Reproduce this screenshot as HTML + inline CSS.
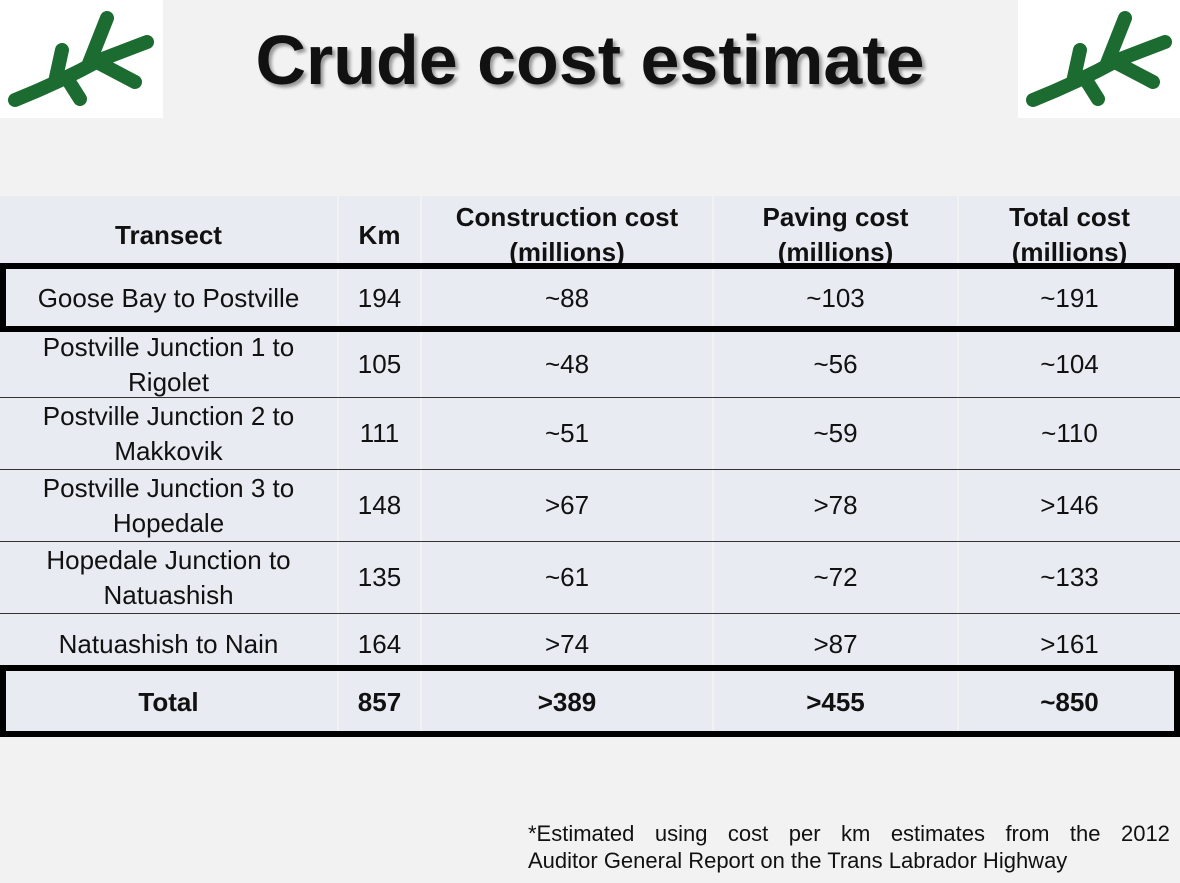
<!DOCTYPE html>
<html><head><meta charset="utf-8"><style>
body{margin:0;width:1180px;height:883px;background:#f2f2f2;position:relative;overflow:hidden;font-family:"Liberation Sans",Arial,sans-serif;color:#111}
.a{position:absolute}
.logo{position:absolute;top:0;width:163px;height:118px;background:#fff}
.title{position:absolute;left:0;width:1180px;top:20px;text-align:center;font-weight:bold;font-size:70px;text-shadow:3px 3px 3px #999}
.cell{position:absolute;background:#e9ebf3;display:flex;align-items:center;justify-content:center;text-align:center;font-size:26px;line-height:35px}
.hl{position:absolute;left:0;width:1180px;height:1px;background:#333}
.b{font-weight:bold}
.box{position:absolute;left:0;width:1180px;border:6px solid #000;box-sizing:border-box}
</style></head><body>
<div class="logo" style="left:0"><svg width="163" height="118" viewBox="0 0 163 118"><g stroke="#1c6b30" stroke-width="14" stroke-linecap="round" fill="none"><path d="M15 100 Q60 82 100 60 L147 42"/><path d="M55 82 L62 50"/><path d="M88 66 L107 18"/><path d="M97 62 L135 82"/><path d="M68 80 L80 99"/></g></svg></div>
<div class="logo" style="left:1018px"><svg width="163" height="118" viewBox="0 0 163 118"><g stroke="#1c6b30" stroke-width="14" stroke-linecap="round" fill="none"><path d="M15 100 Q60 82 100 60 L147 42"/><path d="M55 82 L62 50"/><path d="M88 66 L107 18"/><path d="M97 62 L135 82"/><path d="M68 80 L80 99"/></g></svg></div>
<div class="title">Crude cost estimate</div>

<div class="cell b" style="left:0;width:337px;top:196px;height:68px;padding-top:10px;box-sizing:border-box">Transect</div>
<div class="cell b" style="left:339px;width:81px;top:196px;height:68px;padding-top:10px;box-sizing:border-box">Km</div>
<div class="cell b" style="left:422px;width:290px;top:196px;height:68px;align-items:flex-start;overflow:hidden"><div style="margin-top:4px">Construction cost<br>(millions)</div></div>
<div class="cell b" style="left:714px;width:243px;top:196px;height:68px;align-items:flex-start;overflow:hidden"><div style="margin-top:4px">Paving cost<br>(millions)</div></div>
<div class="cell b" style="left:959px;width:221px;top:196px;height:68px;align-items:flex-start;overflow:hidden"><div style="margin-top:4px">Total cost<br>(millions)</div></div>

<div class="cell" style="left:0;width:337px;top:264px;height:68px">Goose Bay to Postville</div>
<div class="cell" style="left:339px;width:81px;top:264px;height:68px">194</div>
<div class="cell" style="left:422px;width:290px;top:264px;height:68px">~88</div>
<div class="cell" style="left:714px;width:243px;top:264px;height:68px">~103</div>
<div class="cell" style="left:959px;width:221px;top:264px;height:68px">~191</div>

<div class="cell" style="left:0;width:337px;top:332px;height:65px">Postville Junction 1 to<br>Rigolet</div>
<div class="cell" style="left:339px;width:81px;top:332px;height:65px">105</div>
<div class="cell" style="left:422px;width:290px;top:332px;height:65px">~48</div>
<div class="cell" style="left:714px;width:243px;top:332px;height:65px">~56</div>
<div class="cell" style="left:959px;width:221px;top:332px;height:65px">~104</div>

<div class="cell" style="left:0;width:337px;top:398px;height:71px">Postville Junction 2 to<br>Makkovik</div>
<div class="cell" style="left:339px;width:81px;top:398px;height:71px">111</div>
<div class="cell" style="left:422px;width:290px;top:398px;height:71px">~51</div>
<div class="cell" style="left:714px;width:243px;top:398px;height:71px">~59</div>
<div class="cell" style="left:959px;width:221px;top:398px;height:71px">~110</div>

<div class="cell" style="left:0;width:337px;top:470px;height:71px">Postville Junction 3 to<br>Hopedale</div>
<div class="cell" style="left:339px;width:81px;top:470px;height:71px">148</div>
<div class="cell" style="left:422px;width:290px;top:470px;height:71px">&gt;67</div>
<div class="cell" style="left:714px;width:243px;top:470px;height:71px">&gt;78</div>
<div class="cell" style="left:959px;width:221px;top:470px;height:71px">&gt;146</div>

<div class="cell" style="left:0;width:337px;top:542px;height:71px">Hopedale Junction to<br>Natuashish</div>
<div class="cell" style="left:339px;width:81px;top:542px;height:71px">135</div>
<div class="cell" style="left:422px;width:290px;top:542px;height:71px">~61</div>
<div class="cell" style="left:714px;width:243px;top:542px;height:71px">~72</div>
<div class="cell" style="left:959px;width:221px;top:542px;height:71px">~133</div>

<div class="cell" style="left:0;width:337px;top:614px;height:60px">Natuashish to Nain</div>
<div class="cell" style="left:339px;width:81px;top:614px;height:60px">164</div>
<div class="cell" style="left:422px;width:290px;top:614px;height:60px">&gt;74</div>
<div class="cell" style="left:714px;width:243px;top:614px;height:60px">&gt;87</div>
<div class="cell" style="left:959px;width:221px;top:614px;height:60px">&gt;161</div>

<div class="cell b" style="left:0;width:337px;top:670px;height:64px">Total</div>
<div class="cell b" style="left:339px;width:81px;top:670px;height:64px">857</div>
<div class="cell b" style="left:422px;width:290px;top:670px;height:64px">&gt;389</div>
<div class="cell b" style="left:714px;width:243px;top:670px;height:64px">&gt;455</div>
<div class="cell b" style="left:959px;width:221px;top:670px;height:64px">~850</div>

<div class="hl" style="top:397px"></div>
<div class="hl" style="top:469px"></div>
<div class="hl" style="top:541px"></div>
<div class="hl" style="top:613px"></div>

<div class="box" style="top:263px;height:69px"></div>
<div class="box" style="top:665px;height:72px"></div>

<div class="a" style="left:528px;top:820px;width:642px;font-size:22px;line-height:27px;color:#111"><div style="white-space:nowrap;display:flex;justify-content:space-between"><span>*Estimated</span><span>using</span><span>cost</span><span>per</span><span>km</span><span>estimates</span><span>from</span><span>the</span><span>2012</span></div><div>Auditor General Report on the Trans Labrador Highway</div></div>
</body></html>
